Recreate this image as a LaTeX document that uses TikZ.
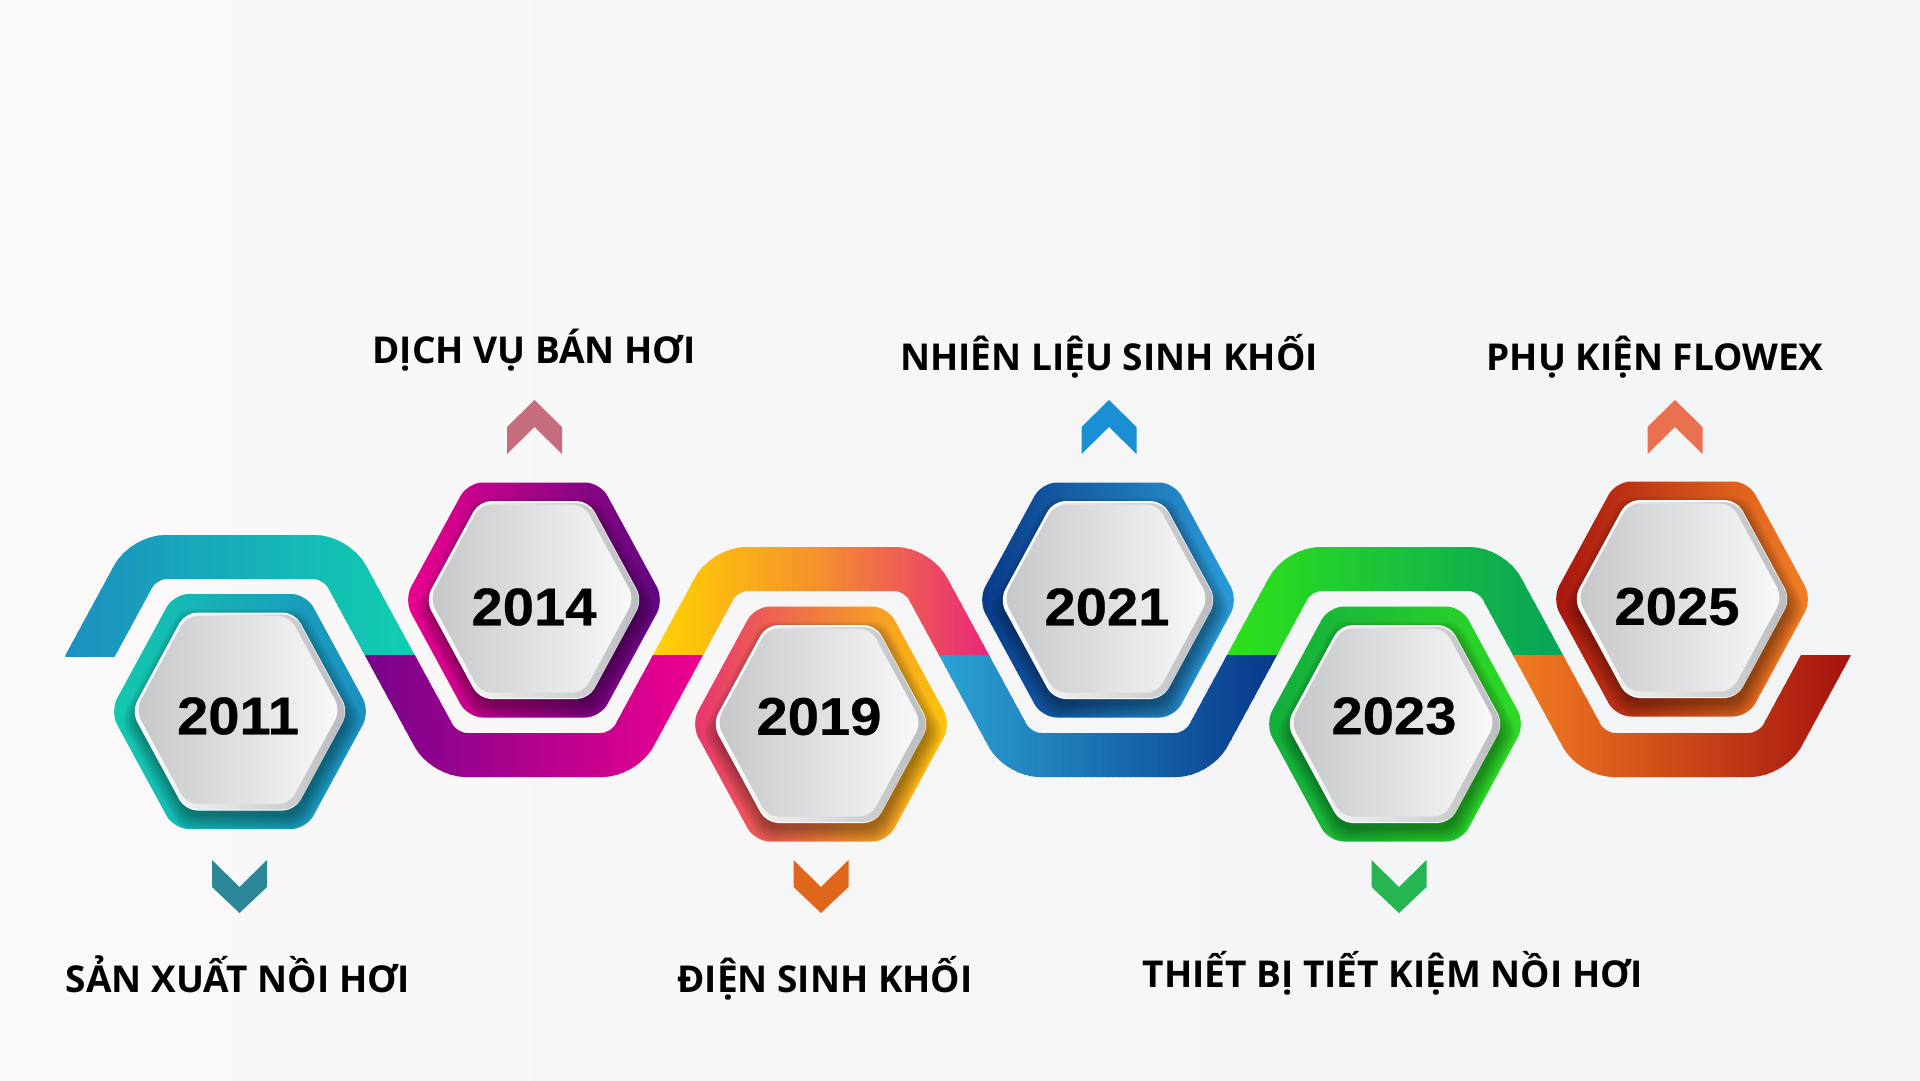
\documentclass[tikz,border=0pt]{standalone}
\usepackage{fontspec}
\setmainfont{Open Sans}
\newfontfamily\yearfont{Liberation Sans}[FakeStretch=1.06, BoldFeatures={FakeBold=0.5}]
\newfontfamily\labfont{Open Sans}
\definecolor{bgL}{HTML}{FBF8F8}
\definecolor{bgR}{HTML}{F2F4F6}
% ribbon colours
\definecolor{rA1}{HTML}{1C8FC1}\definecolor{rB1}{HTML}{11CEB0}
\definecolor{rA2}{HTML}{76038B}\definecolor{rB2}{HTML}{EE0090}
\definecolor{rA3}{HTML}{FFD400}\definecolor{rM3}{HTML}{F5902E}\definecolor{rB3}{HTML}{E8287A}
\definecolor{rA4}{HTML}{2CA3D4}\definecolor{rB4}{HTML}{08398B}
\definecolor{rA5}{HTML}{2EE21A}\definecolor{rB5}{HTML}{07A35A}
\definecolor{rA6}{HTML}{F27C22}\definecolor{rB6}{HTML}{A5140F}
\colorlet{rM1}{rA1!50!rB1}
\colorlet{rM2}{rA2!50!rB2}
\colorlet{rM4}{rA4!50!rB4}
\colorlet{rM5}{rA5!50!rB5}
\colorlet{rM6}{rA6!50!rB6}
% hexagon colours
\definecolor{hL1}{HTML}{12C9AE}\definecolor{hR1}{HTML}{1D8DC2}
\definecolor{hL2}{HTML}{EC0090}\definecolor{hR2}{HTML}{5C077F}
\definecolor{hL3}{HTML}{E8356F}\definecolor{hR3}{HTML}{FBC60A}
\definecolor{hL4}{HTML}{093A8A}\definecolor{hR4}{HTML}{2B9DD8}
\definecolor{hL5}{HTML}{12AD3E}\definecolor{hR5}{HTML}{2FDA24}
\definecolor{hL6}{HTML}{A8150F}\definecolor{hR6}{HTML}{F28024}
% chevrons
\definecolor{c1}{HTML}{2B8797}
\definecolor{c2}{HTML}{C56D7C}
\definecolor{c3}{HTML}{E0661C}
\definecolor{c4}{HTML}{1A8FD3}
\definecolor{c5}{HTML}{27B552}
\definecolor{c6}{HTML}{EA7150}
% face
\definecolor{faceL}{HTML}{C6C7C9}
\definecolor{faceM}{HTML}{E7E7E9}
\definecolor{faceR}{HTML}{F9F9FA}
\definecolor{rimR}{HTML}{BABBBE}

\newcommand{\hexp}[4]{({(#1)},{(#2)-(#4)}) -- ({(#1)+(#3)-0.543*(#4)},{(#2)-(#4)}) -- ({(#1)+(#3)},{(#2)}) -- ({(#1)+(#3)-0.543*(#4)},{(#2)+(#4)}) -- ({(#1)-(#3)+0.543*(#4)},{(#2)+(#4)}) -- ({(#1)-(#3)},{(#2)}) -- ({(#1)-(#3)+0.543*(#4)},{(#2)-(#4)}) -- cycle}

\newcommand{\wavepath}{(77,680) -- (143.7,557) -- (336.3,557) -- (444.2,755) -- (623.8,755) -- (724.7,569) -- (917.3,569) -- (1018.2,755) -- (1197.8,755) -- (1298.7,569) -- (1491.3,569) -- (1592.2,755) -- (1771.8,755) -- (1839.6,630)}

% #1 xa  #2 xb  #3 ya  #4 yb  #5 A  #6 M  #7 B
\newcommand{\ribbonseg}[7]{%
  \foreach \k in {0,...,59}{%
    \pgfmathsetmacro{\xl}{(#1)+((#2)-(#1))/60*\k-0.7}%
    \pgfmathsetmacro{\xr}{(#1)+((#2)-(#1))/60*(\k+1)+0.7}%
    \ifnum\k<30
      \pgfmathtruncatemacro{\pc}{100-100*(\k+0.5)/30}\def\cA{#5}\def\cB{#6}%
    \else
      \pgfmathtruncatemacro{\pc}{100-100*(\k-30+0.5)/30}\def\cA{#6}\def\cB{#7}%
    \fi
    \begin{scope}
      \clip (\xl,#3) rectangle (\xr,#4);
      \draw[ribbon, color=\cA!\pc!\cB] \wavepath;
    \end{scope}
  }%
}

% #1 cx #2 cy #3 colL #4 colR
\newcommand{\yearhex}[4]{%
  \shade[left color=#3, right color=#4, rounded corners=15pt] \hexp{#1}{#2}{130}{117.5};
  \begin{scope}
    \clip[rounded corners=15pt] \hexp{#1}{#2}{130}{117.5};
    \foreach \s in {0,...,6}{
      \fill[black, opacity=0.055, rounded corners=12pt] \hexp{#1+2}{#2+8}{107+2.4*\s}{97+2.2*\s};
    }
  \end{scope}
  \fill[white, rounded corners=12pt] \hexp{#1}{#2}{108.5}{99};
  \shade[left color=white, right color=rimR, rounded corners=12pt] \hexp{#1+1}{#2+0.5}{107}{97.5};
  \shade[left color=faceL, middle color=faceM, right color=faceR, rounded corners=11pt] \hexp{#1-2}{#2-1.5}{102.5}{94};
}

\newcommand{\chevup}[2]{\fill[#2] ({#1},400) -- ({#1+27.5},427) -- ({#1+27.5},454) -- ({#1},427) -- ({#1-27.5},454) -- ({#1-27.5},427) -- cycle;}
\newcommand{\chevdown}[2]{\fill[#2] ({#1-27.5},860) -- ({#1},887) -- ({#1+27.5},860) -- ({#1+27.5},887) -- ({#1},913) -- ({#1-27.5},887) -- cycle;}

\begin{document}
\begin{tikzpicture}[x=1pt,y=-1pt,
  ribbon/.style={line width=44pt, rounded corners=22pt},
  year/.style={font=\yearfont\bfseries\fontsize{53}{53}\selectfont, inner sep=0pt, text=black},
  lab/.style={font=\labfont\bfseries\fontsize{37}{40}\selectfont, inner sep=0pt, anchor=base, text=black}]

\shade[left color=bgL, right color=bgR] (0,0) rectangle (1920,1080);
\useasboundingbox (0,0) rectangle (1920,1080);

% ribbon
\ribbonseg{66}{414}{470}{656}{rA1}{rM1}{rB1}
\ribbonseg{653}{989}{470}{656}{rA3}{rM3}{rB3}
\ribbonseg{1227}{1563}{470}{656}{rA5}{rM5}{rB5}
\ribbonseg{366}{702}{655.5}{820}{rA2}{rM2}{rB2}
\ribbonseg{940}{1276}{655.5}{820}{rA4}{rM4}{rB4}
\ribbonseg{1514}{1850}{655.5}{820}{rA6}{rM6}{rB6}

% hexagons
\yearhex{240}{711.5}{hL1}{hR1}
\yearhex{534}{600}{hL2}{hR2}
\yearhex{821}{724}{hL3}{hR3}
\yearhex{1108}{600}{hL4}{hR4}
\yearhex{1395}{724}{hL5}{hR5}
\yearhex{1682}{599}{hL6}{hR6}

\node[year] (y2011) at (238,716) {2011};
\node[year] (y2014) at (534,607) {2014};
\node[year] (y2019) at (819,716.5) {2019};
\node[year] (y2021) at (1107,607) {2021};
\node[year] (y2023) at (1394,716) {2023};
\node[year] (y2025) at (1677,606.5) {2025};

% chevrons
\chevdown{239.5}{c1}
\chevup{534.5}{c2}
\chevdown{821}{c3}
\chevup{1109}{c4}
\chevdown{1399}{c5}
\chevup{1675}{c6}

% labels
\node[lab] (l2014) at (534,363) {DỊCH VỤ BÁN HƠI};
\node[lab] (l2021) at (1109,370) {NHIÊN LIỆU SINH KHỐI};
\node[lab] (l2025) at (1655,370) {PHỤ KIỆN FLOWEX};
\node[lab] (l2011) at (238,992) {SẢN XUẤT NỒI HƠI};
\node[lab] (l2019) at (825,992) {ĐIỆN SINH KHỐI};
\node[lab] (l2023) at (1393,987) {THIẾT BỊ TIẾT KIỆM NỒI HƠI};
\end{tikzpicture}
\end{document}
